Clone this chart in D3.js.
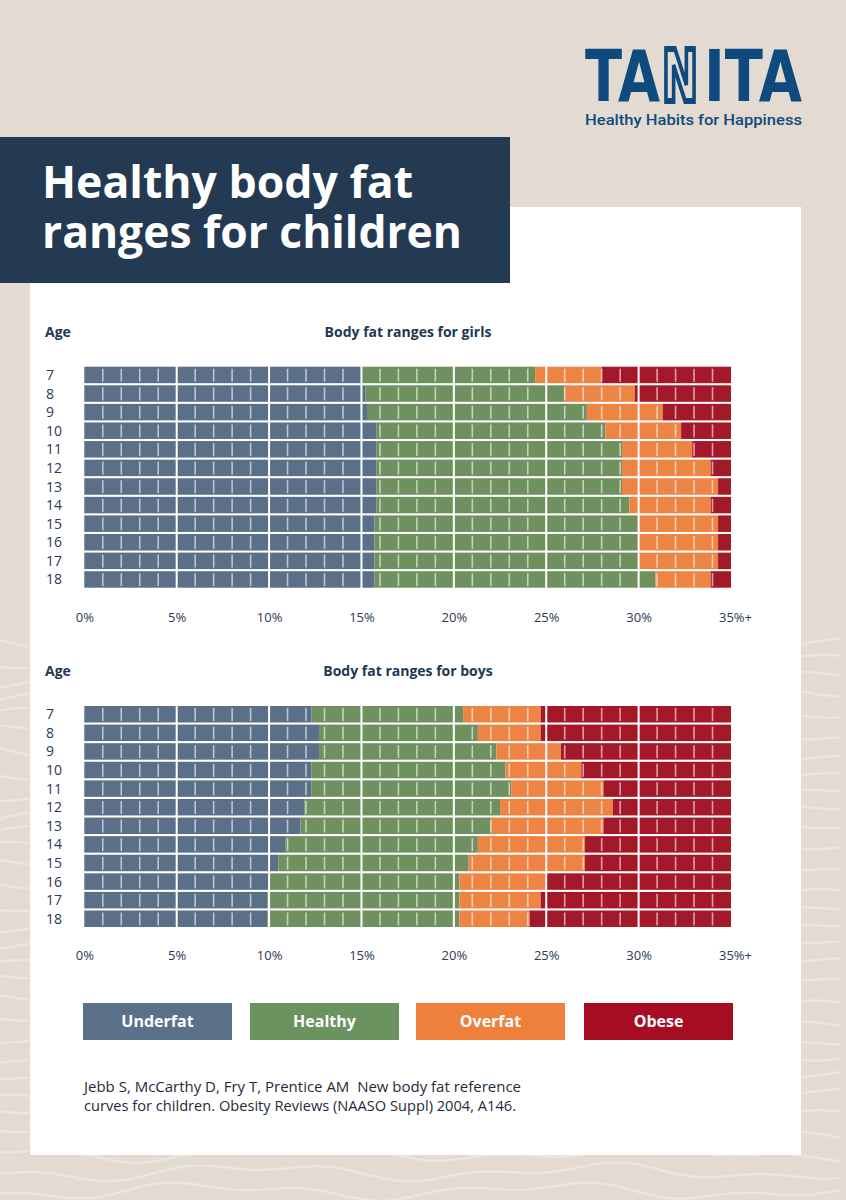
<!DOCTYPE html>
<html>
<head>
<meta charset="utf-8">
<script src="https://cdn.jsdelivr.net/npm/d3@7"></script>
<style>
  body { margin: 0; background: #e3dad2; }
  svg { display: block; }
</style>
</head>
<body>
<div id="chart-area"></div>
<script>

// page size
var width = 846,
	height = 1200;

// data
const ages = [7, 8, 9, 10, 11, 12, 13, 14, 15, 16, 17, 18];
const categories = ["Underfat", "Healthy", "Overfat", "Obese"];
const xTicks = [0, 5, 10, 15, 20, 25, 30, 35];

// upper limit (%) of each band, per age
const girlsUnderfat = [15.0, 15.2, 15.3, 15.8, 15.8, 15.8, 15.8, 15.8, 15.7, 15.7, 15.7, 15.7];
const girlsHealthy  = [24.4, 26.0, 27.2, 28.2, 29.1, 29.1, 29.1, 29.5, 30.0, 30.0, 30.0, 30.9];
const girlsOverfat  = [28.0, 29.8, 31.3, 32.3, 32.9, 33.9, 34.3, 33.9, 34.3, 34.3, 34.3, 33.9];

const boysUnderfat = [12.3, 12.7, 12.7, 12.3, 12.3, 11.9, 11.7, 10.9, 10.5, 10.0, 9.9, 9.9];
const boysHealthy  = [20.5, 21.3, 22.3, 22.8, 23.1, 22.5, 22.0, 21.3, 20.8, 20.3, 20.3, 20.3];
const boysOverfat  = [24.7, 24.7, 25.8, 26.9, 28.1, 28.6, 28.1, 27.1, 27.1, 25.0, 24.7, 24.1];

const maxFat = 35;

let barColors = ["#5b6f88", "#6f905f", "#ee8444", "#a3192a"];
let legendColors = ["#5b7089", "#6a935f", "#ef803b", "#a70d22"];
let navy = "#22384f";
let textColor = "#2c3a52";
let logoBlue = "#0e4a7e";

let svg = d3.select("#chart-area")
	.append("svg")
	.attr("width", width)
	.attr("height", height);

// background
svg.append("rect")
	.attr("width", width)
	.attr("height", height)
	.attr("fill", "#e3dad2");

// faint wavy texture on the background (decoration only)
let waves = svg.append("g")
	.attr("fill", "none")
	.attr("stroke", "#ebe5df")
	.attr("stroke-width", 2.5);
for (let k = 0; k < 30; k++) {
	let y0 = 640 + k * 19;
	let pts = [];
	for (let xx = 0; xx <= width; xx += 12) {
		pts.push([xx, y0 + 6 * Math.sin(xx / 55 + k * 0.9) + 4 * Math.sin(xx / 23 + k)]);
	}
	waves.append("path").attr("d", d3.line().curve(d3.curveBasis)(pts));
}

// white panel
svg.append("rect")
	.attr("x", 30)
	.attr("y", 207)
	.attr("width", 771)
	.attr("height", 948)
	.attr("fill", "#ffffff");

// title box
svg.append("rect")
	.attr("x", 0)
	.attr("y", 137)
	.attr("width", 510)
	.attr("height", 146)
	.attr("fill", "#233a52");

let titleFont = "'Open Sans', 'Noto Sans', sans-serif";
let titleLines = ["Healthy body fat", "ranges for children"];
let titleWidths = [371, 420];
svg.selectAll("text.title")
	.data(titleLines)
	.enter()
	.append("text")
	.attr("class", "title")
	.text(function(d){ return d; })
	.attr("x", 42)
	.attr("y", function(d, i){ return 198 + i * 50; })
	.attr("textLength", function(d, i){ return titleWidths[i]; })
	.attr("lengthAdjust", "spacingAndGlyphs")
	.style("font-family", titleFont)
	.style("font-weight", 700)
	.style("font-size", "45px")
	.style("fill", "#ffffff");

// logo, drawn as three pieces so the N can be outlined;
// each piece is squeezed sideways to its width in the picture
let logoParts = [
	{t: "TA", x: 585, w: 75, outline: false},
	{t: "N", x: 662, w: 36, outline: true},
	{t: "ITA", x: 704, w: 98, outline: false}
];
svg.selectAll("text.logo")
	.data(logoParts)
	.enter()
	.append("text")
	.attr("class", "logo")
	.text(function(d){ return d.t; })
	.style("font-family", "'DejaVu Sans', sans-serif")
	.style("font-weight", 700)
	.style("font-size", "72px")
	.style("fill", function(d){ return d.outline ? "#e3dad2" : logoBlue; })
	.style("stroke", function(d){ return d.outline ? logoBlue : "none"; })
	.style("stroke-width", function(d){ return d.outline ? 6 : 0; })
	.attr("transform", function(d){
		let natural = this.getComputedTextLength();
		return "translate(" + d.x + ",101) scale(" + (d.w / natural) + ",1)";
	});

svg.append("text")
	.text("Healthy Habits for Happiness")
	.attr("x", 585)
	.attr("y", 125)
	.attr("textLength", 217)
	.attr("lengthAdjust", "spacingAndGlyphs")
	.style("font-family", "Roboto, sans-serif")
	.style("font-weight", 500)
	.style("font-size", "15.5px")
	.style("fill", logoBlue);

// shared x scale
let xScale = d3.scaleLinear()
	.domain([0, maxFat])
	.range([84.3, 731]);

let bodyFont = "'Open Sans', 'Noto Sans', sans-serif";

function drawChart(title, under, healthy, over, top, axisY) {

	let g = svg.append("g");

	let yScale = d3.scaleBand()
		.domain(ages)
		.range([top, top + 221])
		.paddingInner(0.113)
		.paddingOuter(0);

	// header texts
	g.append("text")
		.text("Age")
		.attr("x", 45)
		.attr("y", top - 30)
		.style("font-family", bodyFont)
		.style("font-weight", 700)
		.style("font-size", "14px")
		.style("fill", navy);

	g.append("text")
		.text(title)
		.attr("x", 408)
		.attr("y", top - 30)
		.attr("text-anchor", "middle")
		.style("font-family", bodyFont)
		.style("font-weight", 700)
		.style("font-size", "14px")
		.style("fill", navy);

	// build rows of segments
	let rows = ages.map(function(age, i) {
		let bounds = [0, under[i], healthy[i], over[i], maxFat];
		return categories.map(function(c, k) {
			return {age: age, cat: k, x0: bounds[k], x1: bounds[k + 1]};
		});
	});
	let segments = rows.flat();

	g.selectAll("rect.seg")
		.data(segments)
		.enter()
		.append("rect")
		.attr("class", "seg")
		.attr("x", function(d){ return xScale(d.x0); })
		.attr("width", function(d){ return xScale(d.x1) - xScale(d.x0); })
		.attr("y", function(d){ return yScale(d.age); })
		.attr("height", yScale.bandwidth())
		.attr("fill", function(d){ return barColors[d.cat]; });

	// white gaps every 5%
	g.selectAll("rect.gap")
		.data(xTicks.slice(1, -1))
		.enter()
		.append("rect")
		.attr("class", "gap")
		.attr("x", function(d){ return xScale(d) - 1; })
		.attr("width", 2)
		.attr("y", top - 1)
		.attr("height", 223)
		.attr("fill", "#ffffff");

	// light 1% marks inside each bar
	let minor = d3.range(1, maxFat).filter(function(v){ return v % 5 !== 0; });
	let marks = [];
	ages.forEach(function(age){
		minor.forEach(function(v){ marks.push({age: age, v: v}); });
	});
	g.selectAll("line.mark")
		.data(marks)
		.enter()
		.append("line")
		.attr("class", "mark")
		.attr("x1", function(d){ return xScale(d.v); })
		.attr("x2", function(d){ return xScale(d.v); })
		.attr("y1", function(d){ return yScale(d.age) + 2; })
		.attr("y2", function(d){ return yScale(d.age) + yScale.bandwidth() - 1.5; })
		.attr("stroke", "#ffffff")
		.attr("stroke-opacity", 0.6)
		.attr("stroke-width", 1.6);

	// age labels
	g.selectAll("text.age")
		.data(ages)
		.enter()
		.append("text")
		.attr("class", "age")
		.text(function(d){ return d; })
		.attr("x", 46)
		.attr("y", function(d){ return yScale(d) + yScale.bandwidth() / 2; })
		.attr("dy", "0.36em")
		.style("font-family", bodyFont)
		.style("font-size", "14px")
		.style("fill", textColor);

	// x axis
	let xAxis = d3.axisBottom(xScale)
		.tickValues(xTicks)
		.tickSize(0)
		.tickPadding(2)
		.tickFormat(function(d){ return d + "%" + (d === maxFat ? "+" : ""); });

	let ax = g.append("g")
		.attr("transform", "translate(0," + axisY + ")")
		.call(xAxis);
	ax.select(".domain").remove();
	ax.selectAll("text")
		.style("font-family", bodyFont)
		.style("font-size", "13px")
		.style("fill", textColor)
		.attr("dx", function(d){ return d === maxFat ? 4 : 0; });
}

drawChart("Body fat ranges for girls", girlsUnderfat, girlsHealthy, girlsOverfat, 366.7, 611);
drawChart("Body fat ranges for boys", boysUnderfat, boysHealthy, boysOverfat, 706, 949);

// legend
let legendX = [83, 250, 416, 584];
let legend = svg.selectAll("g.legend")
	.data(categories)
	.enter()
	.append("g")
	.attr("class", "legend")
	.attr("transform", function(d, i){ return "translate(" + legendX[i] + ",1003)"; });

legend.append("rect")
	.attr("width", 149)
	.attr("height", 37)
	.attr("fill", function(d, i){ return legendColors[i]; });

legend.append("text")
	.text(function(d){ return d; })
	.attr("x", 74.5)
	.attr("y", 18.5)
	.attr("dy", "0.36em")
	.attr("text-anchor", "middle")
	.style("font-family", bodyFont)
	.style("font-weight", 700)
	.style("font-size", "16px")
	.style("fill", "#ffffff");

// source
let source = [
	"Jebb S, McCarthy D, Fry T, Prentice AM\u00a0 New body fat reference",
	"curves for children. Obesity Reviews (NAASO Suppl) 2004, A146."
];
svg.selectAll("text.source")
	.data(source)
	.enter()
	.append("text")
	.attr("class", "source")
	.text(function(d){ return d; })
	.attr("x", 84)
	.attr("y", function(d, i){ return 1092 + i * 19; })
	.attr("textLength", function(d, i){ return i === 0 ? 437 : 432; })
	.attr("lengthAdjust", "spacingAndGlyphs")
	.style("font-family", bodyFont)
	.style("font-size", "14px")
	.style("fill", "#1f2a3a");

</script>
</body>
</html>
